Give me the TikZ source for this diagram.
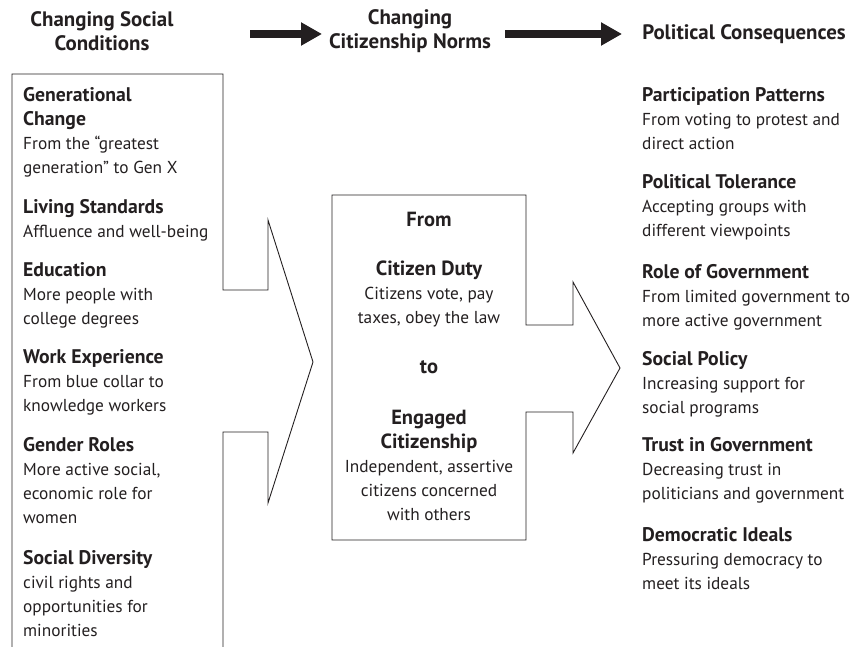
\documentclass[tikz,border=0pt]{standalone}
\usepackage{fontspec}
\setmainfont{PT Sans}
\usetikzlibrary{arrows.meta}
\definecolor{ink}{RGB}{35,31,32}
\newcommand{\ititle}[1]{{\fontsize{19.7}{24}\selectfont\bfseries #1}}
\newcommand{\mtitle}[1]{{\fontsize{20.5}{24}\selectfont\bfseries #1}}
\newcommand{\htitle}[1]{{\fontsize{20.9}{25}\selectfont\bfseries #1}}
\begin{document}
\begin{tikzpicture}[x=1pt,y=-1pt,
  txt/.style={anchor=base west, inner sep=0pt, text=ink, font=\fontsize{17.3}{24}\selectfont},
  ctxt/.style={anchor=base, inner sep=0pt, text=ink, font=\fontsize{17.3}{24}\selectfont},
  outline/.style={draw=ink, line width=0.9pt, line join=miter},
  bigarrow/.style={draw=ink, fill=ink, line width=8pt, -{Triangle[length=21pt,width=22pt]}}
]
\useasboundingbox (0,0) rectangle (854,647);
% headers
\node[ctxt] (h1) at (102,26.5) {\parbox[t]{240pt}{\centering\htitle{Changing Social}\\\htitle{Conditions}}};
\node[ctxt] (h2) at (410,24.5) {\parbox[t]{240pt}{\centering\htitle{Changing}\\\htitle{Citizenship Norms}}};
\node[ctxt] (h3) at (744,39.5) {\htitle{Political Consequences}};
\coordinate (a1s) at (250,34);
\coordinate (a1e) at (322,34);
\coordinate (a2s) at (505,34);
\coordinate (a2e) at (622,34);
\draw[bigarrow] (a1s) -- (a1e);
\draw[bigarrow] (a2s) -- (a2e);
% outlines
\draw[outline] (12,647) -- (12,74) -- (223,74) -- (223,290) -- (268,290) -- (268,220) -- (313,362) -- (268,503) -- (268,432) -- (223,432) -- (223,647);
\draw[outline] (332,195) -- (526,195) -- (526,325) -- (573,325) -- (573,282) -- (620,368) -- (573,453) -- (573,412) -- (526,412) -- (526,540) -- (332,540) -- cycle;
% left column
\node[txt] (gen) at (23,101.5) {\parbox[t]{300pt}{\raggedright\ititle{Generational}\\\ititle{Change}\\From the “greatest\\generation” to Gen X}};
\node[txt] (liv) at (23,213.5) {\parbox[t]{300pt}{\raggedright\ititle{Living Standards}\\Affluence and well-being}};
\node[txt] (edu) at (23,276.5) {\parbox[t]{300pt}{\raggedright\ititle{Education}\\More people with\\college degrees}};
\node[txt] (work) at (23,363.5) {\parbox[t]{300pt}{\raggedright\ititle{Work Experience}\\From blue collar to\\knowledge workers}};
\node[txt] (gend) at (23,451.5) {\parbox[t]{300pt}{\raggedright\ititle{Gender Roles}\\More active social,\\economic role for\\women}};
\node[txt] (div) at (23,564.5) {\parbox[t]{300pt}{\raggedright\ititle{Social Diversity}\\civil rights and\\opportunities for\\minorities}};
% middle
\node[ctxt] (from) at (429,226.5) {\mtitle{From}};
\node[ctxt] (duty) at (429,275.5) {\parbox[t]{240pt}{\centering\mtitle{Citizen Duty}\\Citizens vote, pay\\taxes, obey the law}};
\node[ctxt] (to) at (429,373.5) {\mtitle{to}};
\node[ctxt] (eng) at (429,424.5) {\parbox[t]{240pt}{\centering\mtitle{Engaged}\\\mtitle{Citizenship}\\Independent, assertive\\citizens concerned\\with others}};
% right column
\node[txt] (part) at (642,101.5) {\parbox[t]{300pt}{\raggedright\ititle{Participation Patterns}\\From voting to protest and\\direct action}};
\node[txt] (tol) at (642,188.5) {\parbox[t]{300pt}{\raggedright\ititle{Political Tolerance}\\Accepting groups with\\different viewpoints}};
\node[txt] (role) at (642,278.5) {\parbox[t]{300pt}{\raggedright\ititle{Role of Government}\\From limited government to\\more active government}};
\node[txt] (pol) at (642,365.5) {\parbox[t]{300pt}{\raggedright\ititle{Social Policy}\\Increasing support for\\social programs}};
\node[txt] (trust) at (642,451.5) {\parbox[t]{300pt}{\raggedright\ititle{Trust in Government}\\Decreasing trust in\\politicians and government}};
\node[txt] (dem) at (642,541.5) {\parbox[t]{300pt}{\raggedright\ititle{Democratic Ideals}\\Pressuring democracy to\\meet its ideals}};
\end{tikzpicture}
\end{document}
